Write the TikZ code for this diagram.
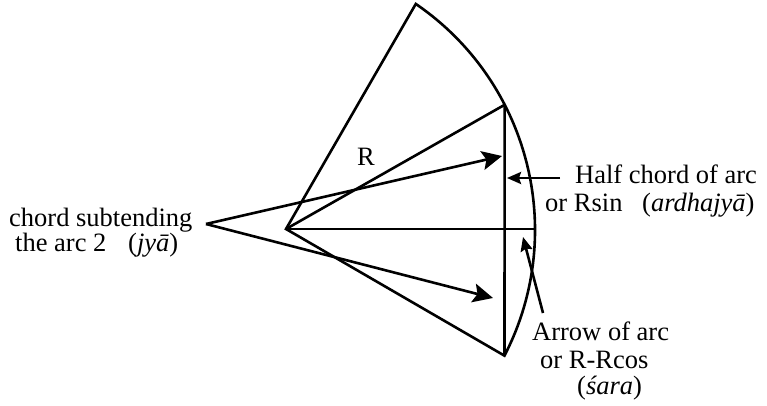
\documentclass[tikz,border=0pt]{standalone}
\usepackage{fontspec}
\setmainfont{Liberation Serif}
\usetikzlibrary{arrows.meta,calc}
\begin{document}
\begin{tikzpicture}[x=1pt,y=1pt,
  geo/.style={line width=2.6pt, line join=miter},
  bigarrow/.style={geo, -{Stealth[length=20pt,width=19pt,inset=4pt]}},
  smallarrow/.style={geo, -{Stealth[length=14pt,width=12pt,inset=2pt]}},
  lbl/.style={anchor=base west, inner sep=0pt, font=\fontsize{26.5}{30}\selectfont}]
\useasboundingbox (0,0) rectangle (767,-406);
% geometry
\coordinate (C) at (261,-230);
\coordinate (O) at (286,-229);
\coordinate (A) at ($(C)+(55.6:274)$);
\coordinate (P) at ($(C)+(27.2:274)$);
\coordinate (Q) at ($(C)+(-27.3:274)$);
\coordinate (E) at (535,-229);
\coordinate (L) at (206,-224);
\coordinate (T1) at (502,-156);
\coordinate (T2) at (493,-298);
\coordinate (H1) at (560,-178);
\coordinate (H2) at (507,-178);
\coordinate (S1) at (543,-313);
\coordinate (S2) at (523,-237);
% sector
\draw[geo] (O) -- (A) arc[start angle=55.6, end angle=-27.3, radius=274] -- cycle;
\draw[geo] (O) -- (P);
\draw[geo] (O) -- (E);
\draw[geo] (P) -- (Q);
% arrows
\draw[bigarrow] (L) -- (T1);
\draw[bigarrow] (L) -- (T2);
\draw[smallarrow] (H1) -- (H2);
\draw[smallarrow] (S1) -- (S2);
% labels
\node[lbl] (chord1) at (9,-226) {chord subtending};
\node[lbl] (chord2) at (15,-251) {the arc 2};
\node[lbl] (jya) at (128,-251) {(\textit{jyā})};
\node[lbl] (R) at (357,-165) {R};
\node[lbl] (half1) at (575,-183) {Half chord of arc};
\node[lbl] (half2) at (545,-211) {or Rsin};
\node[lbl] (ardha) at (642,-211) {(\textit{ardhajyā})};
\node[lbl] (arrow1) at (532,-340) {Arrow of arc};
\node[lbl] (arrow2) at (540,-368) {or R-Rcos};
\node[lbl] (sara) at (577,-394) {(\textit{śara})};
\end{tikzpicture}
\end{document}
